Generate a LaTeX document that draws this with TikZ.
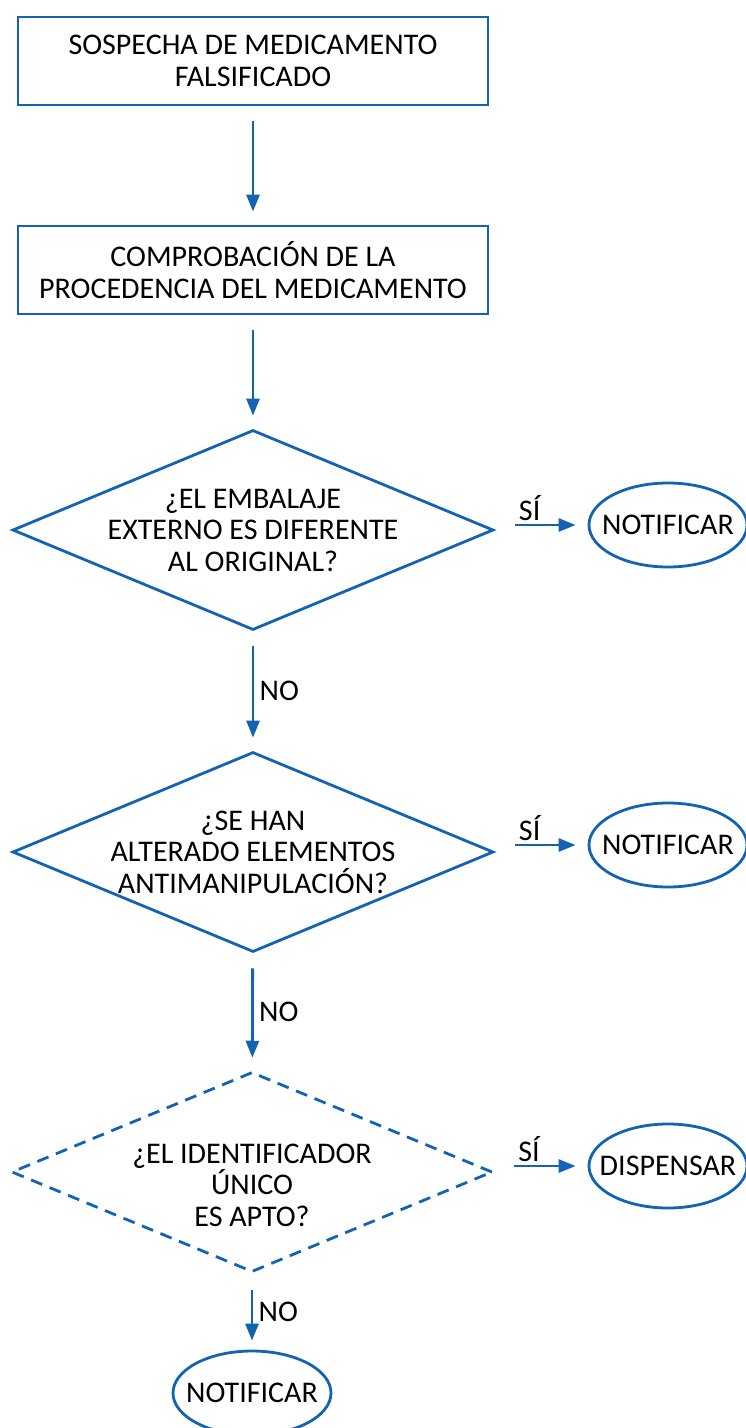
\documentclass[tikz,border=0pt]{standalone}
\usepackage{fontspec}
\setmainfont{Carlito}
\usetikzlibrary{shapes.geometric,arrows.meta}
\definecolor{flowblue}{RGB}{18,100,178}
\begin{document}
\begin{tikzpicture}
    [x=1pt, y=-1pt, line width=2.8pt,
      every node/.style={font=\fontsize{30}{31.5}\selectfont, align=center},
      stepbox/.style={draw=flowblue, rectangle, minimum width=470pt, minimum height=88pt, inner sep=0pt},
      question/.style={draw=flowblue, diamond, minimum width=481pt, minimum height=200pt, inner sep=0pt},
      endnode/.style={draw=flowblue, ellipse, minimum width=158pt, minimum height=84pt, inner sep=0pt},
      arr/.style={draw=flowblue, -{Triangle[length=17pt,width=13pt]}, shorten <=15pt, shorten >=13pt},
      yes/.style={arr, shorten <=20pt, shorten >=12pt},
     ]
    \useasboundingbox (0,0) rectangle (745,1428);
    % steps
    \node[stepbox] (suspect) at (253,61) {SOSPECHA DE MEDICAMENTO\\FALSIFICADO};
    \node[stepbox] (origin) at (253,270) {COMPROBACIÓN DE LA\\PROCEDENCIA DEL MEDICAMENTO};
    % questions
    \node[question, label={center:{¿EL EMBALAJE\\EXTERNO ES DIFERENTE\\AL ORIGINAL?}}] (pack) at (253,530) {};
    \node[question, label={center:{¿SE HAN\\ALTERADO ELEMENTOS\\ANTIMANIPULACIÓN?}}] (seal) at (253,852) {};
    \node[question, dash pattern=on 12pt off 8pt,
      label={[yshift=-13pt]center:{¿EL IDENTIFICADOR\\ÚNICO\\ES APTO?}}] (ident) at (252,1172) {};
    % outcomes
    \node[endnode, label=center:NOTIFICAR] (notify1) at (668,525) {};
    \node[endnode, label=center:NOTIFICAR] (notify2) at (668,845) {};
    \node[endnode, label=center:DISPENSAR] (dispense) at (668,1166) {};
    \node[endnode, label=center:NOTIFICAR] (notify3) at (252,1393) {};
    % connectors
    \draw[arr] (suspect) -- (origin);
    \draw[arr] (origin) -- (pack);
    \draw[arr] (pack) -- node[right, xshift=2pt] {NO} (seal);
    \draw[arr] (seal) -- node[right, xshift=2pt] {NO} (ident);
    \draw[arr, shorten <=17pt, shorten >=9pt] (ident) -- node[right, xshift=2pt] {NO} (notify3);
    \draw[yes] (notify1.west -| pack.east) -- node[above, pos=0.375] {SÍ} (notify1);
    \draw[yes] (notify2.west -| seal.east) -- node[above, pos=0.375] {SÍ} (notify2);
    \draw[yes] (dispense.west -| ident.east) -- node[above, pos=0.375] {SÍ} (dispense);
\end{tikzpicture}
\end{document}
